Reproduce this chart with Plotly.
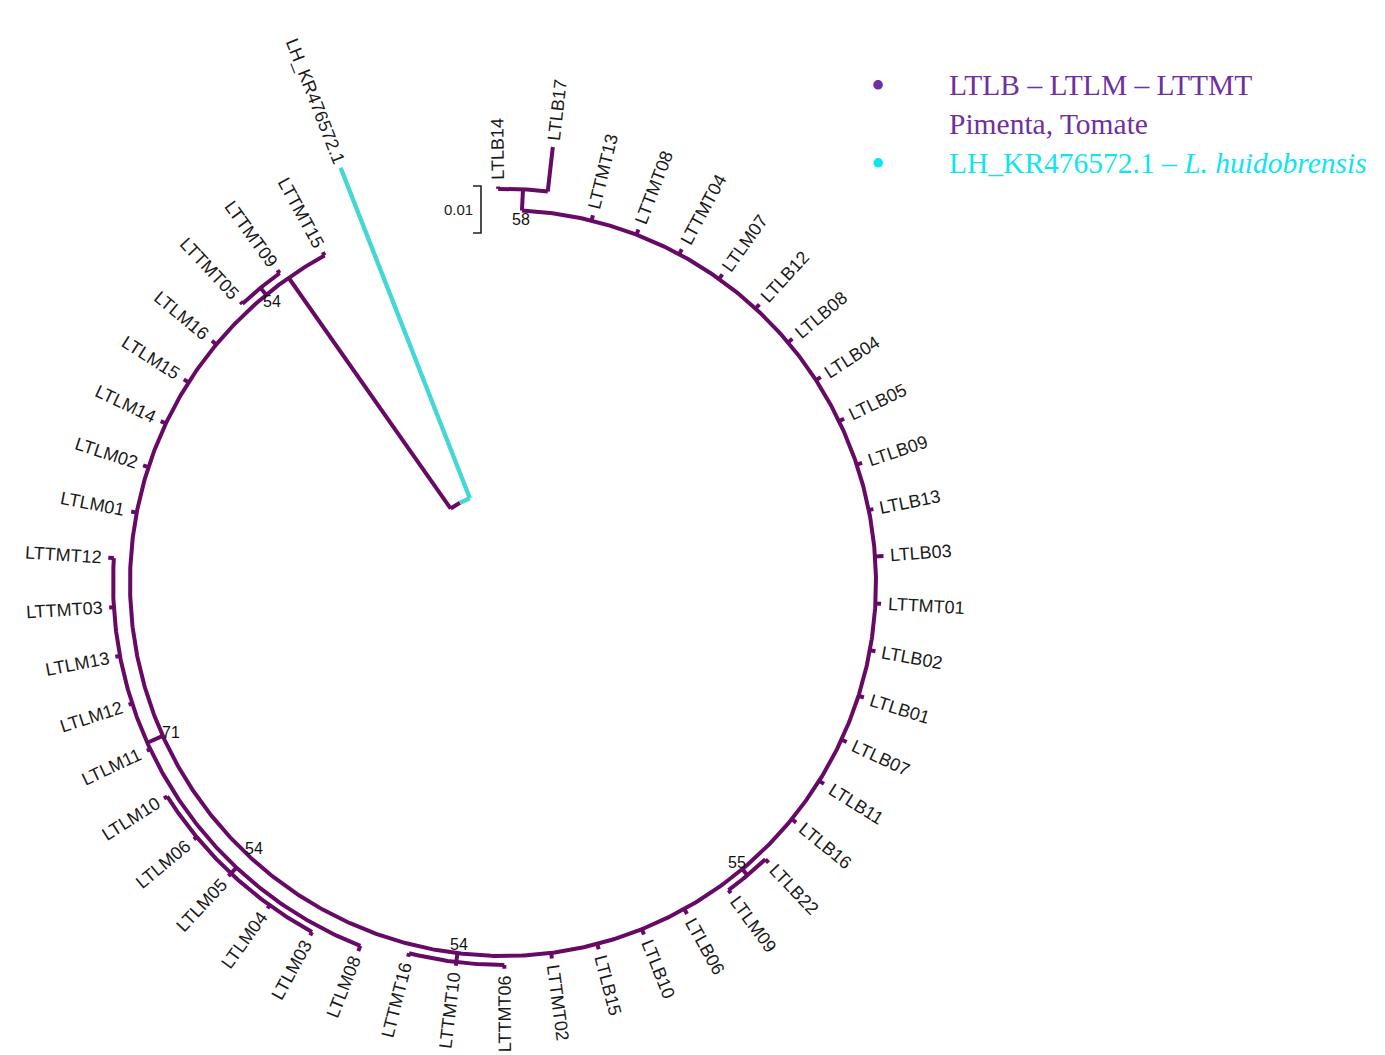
import numpy as np
import plotly.graph_objects as go

# ---------------------------------------------------------------- tree data
# Tips in drawing order, clockwise from the top of the circle
leaf_names = [
    "LTLB14", "LTLB17", "LTTMT13", "LTTMT08", "LTTMT04", "LTLM07", "LTLB12",
    "LTLB08", "LTLB04", "LTLB05", "LTLB09", "LTLB13", "LTLB03", "LTTMT01",
    "LTLB02", "LTLB01", "LTLB07", "LTLB11", "LTLB16", "LTLB22", "LTLM09",
    "LTLB06", "LTLB10", "LTLB15", "LTTMT02", "LTTMT06", "LTTMT10", "LTTMT16",
    "LTLM08", "LTLM03", "LTLM04", "LTLM05", "LTLM06", "LTLM10", "LTLM11",
    "LTLM12", "LTLM13", "LTTMT03", "LTTMT12", "LTLM01", "LTLM02", "LTLM14",
    "LTLM15", "LTLM16", "LTTMT05", "LTTMT09", "LTTMT15", "LH_KR476572.1",
]
# Node each tip hangs from
leaf_parent = [
    "c58", "c58", "in", "in", "in", "in", "in",
    "in", "in", "in", "in", "in", "in", "in",
    "in", "in", "in", "in", "in", "c55", "c55",
    "in", "in", "in", "in", "c54c", "c54c", "c54c",
    "c71", "c54b", "c54b", "c54b", "c54b", "c54b", "c71",
    "c71", "c71", "c71", "c71", "in", "in", "in",
    "in", "in", "c54a", "c54a", "in", "root",
]
# Terminal branch lengths (substitutions/site)
leaf_length = [
    0.0005, 0.0095, 0.0012, 0.0012, 0.0012, 0.0012, 0.0012,
    0.0012, 0.0012, 0.0012, 0.0012, 0.0010, 0.0018, 0.0012,
    0.0012, 0.0012, 0.0012, 0.0012, 0.0012, 0.0010, 0.0008,
    0.0012, 0.0012, 0.0012, 0.0012, 0.0008, 0.0008, 0.0008,
    0.0012, 0.0008, 0.0008, 0.0008, 0.0008, 0.0008, 0.0008,
    0.0008, 0.0010, 0.0010, 0.0012, 0.0012, 0.0012, 0.0012,
    0.0012, 0.0012, 0.0006, 0.0008, 0.0008, 0.0755,
]
# Internal nodes: id, parent, stem length, bootstrap support
clade_ids = ["in", "c58", "c54a", "c71", "c54b", "c54c", "c55"]
clade_parent = ["root", "in", "in", "in", "c71", "in", "in"]
clade_length = [0.0600, 0.0045, 0.0019, 0.0036, 0.0017, 0.0019, 0.0017]
clade_support = ["", "58", "54", "71", "54", "54", "55"]

outgroup = "LH_KR476572.1"
scale_bar_length = 0.01

legend_lines = [
    ("LTLB – LTLM – LTTMT", "#7030A0", True),
    ("Pimenta, Tomate", "#7030A0", False),
    ("LH_KR476572.1 – <i>L. huidobrensis</i>", "#10E4EC", True),
]

# ---------------------------------------------------------------- layout
W, H = 1385, 1055
PX = 4700.0                  # pixels per unit of branch length
CX, CY = 503.0, 583.0        # circle centre in page pixels
THETA0, STEP = 90.7, 7.22    # angle of first tip slot and slot spacing (deg)
ROOT_R = 91 / PX             # radius at which the root is drawn
INGROUP_SLOT = 45.1          # angular slot of the ingroup stem

PURPLE = "#660A66"
CYAN = "#45D6D6"


def theta(slot):
    return np.deg2rad(THETA0 - STEP * np.asarray(slot, dtype=float))


def xy(r, slot):
    t = theta(slot)
    return r * np.cos(t), r * np.sin(t)


# radius of every internal node
radius = {"root": ROOT_R}
for cid, par, L in zip(clade_ids, clade_parent, clade_length):
    radius[cid] = radius[par] + L


def child_slots(cid):
    slots = [i for i, p in enumerate(leaf_parent) if p == cid]
    slots += [clade_slot(c) for c, p in zip(clade_ids, clade_parent) if p == cid]
    return slots


def clade_slot(cid):
    if cid == "in":
        return INGROUP_SLOT
    return float(np.mean(child_slots(cid)))


segs = {PURPLE: ([], []), CYAN: ([], [])}


def add_radial(color, r0, r1, slot):
    x0, y0 = xy(r0, slot)
    x1, y1 = xy(r1, slot)
    segs[color][0].extend([x0, x1, None])
    segs[color][1].extend([y0, y1, None])


def add_arc(color, r, s0, s1):
    s = np.linspace(s0, s1, max(2, int(abs(s1 - s0) * 20)))
    x, y = xy(r, s)
    segs[color][0].extend(list(x) + [None])
    segs[color][1].extend(list(y) + [None])


# internal branches and arcs
for cid, par in zip(clade_ids, clade_parent):
    s = clade_slot(cid)
    add_radial(PURPLE, radius[par], radius[cid], s)
    kids = child_slots(cid) + [s]
    add_arc(PURPLE, radius[cid], min(kids), max(kids))

# root arc (half towards each side)
out_idx = leaf_names.index(outgroup)
mid = (INGROUP_SLOT + out_idx) / 2
add_arc(PURPLE, ROOT_R, INGROUP_SLOT, mid)
add_arc(CYAN, ROOT_R, mid, out_idx)

# terminal branches
tip_r = []
for i, (name, par, L) in enumerate(zip(leaf_names, leaf_parent, leaf_length)):
    col = CYAN if name == outgroup else PURPLE
    add_radial(col, radius[par], radius[par] + L, i)
    tip_r.append(radius[par] + L)

fig = go.Figure()
for col, w in ((PURPLE, 4.0), (CYAN, 4.4)):
    fig.add_trace(go.Scatter(x=segs[col][0], y=segs[col][1], mode="lines",
                             line=dict(color=col, width=w), hoverinfo="skip",
                             showlegend=False))

# ---------------------------------------------------------------- tip labels
ARIAL_W = {"L": .556, "T": .611, "B": .667, "M": .833, "H": .722, "K": .667,
           "_": .556, ".": .278}
FS = 18
annotations = []
for i, name in enumerate(leaf_names):
    width = sum(ARIAL_W.get(ch, .556) for ch in name) * FS
    deg = (THETA0 - STEP * i + 180) % 360 - 180
    if -88 < deg <= 93:
        angle = -deg
    else:
        angle = 180 - deg
    angle = (angle + 180) % 360 - 180
    r = tip_r[i] + (6 + width / 2) / PX
    x, y = xy(r, i)
    annotations.append(dict(x=x, y=y, text=name, showarrow=False, textangle=angle,
                            xanchor="center", yanchor="middle",
                            font=dict(family="Liberation Sans, Arial", size=FS,
                                      color="#1a1a1a")))

# bootstrap values
for cid, sup in zip(clade_ids, clade_support):
    if not sup:
        continue
    x, y = xy(radius["in"] - 9 / PX, clade_slot(cid))
    annotations.append(dict(x=x, y=y, text=sup, showarrow=False,
                            xanchor="center", yanchor="middle",
                            font=dict(family="Liberation Sans, Arial", size=16,
                                      color="#111111")))

# scale bar
sb_x = (481 - CX) / PX
sb_top = (CY - 186) / PX
sb_tick = 8 / PX
fig.add_trace(go.Scatter(
    x=[sb_x - sb_tick, sb_x, sb_x, sb_x - sb_tick],
    y=[sb_top, sb_top, sb_top - scale_bar_length, sb_top - scale_bar_length],
    mode="lines", line=dict(color="#222222", width=1.6), hoverinfo="skip",
    showlegend=False))
annotations.append(dict(x=sb_x - 6 / PX, y=sb_top - scale_bar_length / 2,
                        text=f"{scale_bar_length:.2f}", showarrow=False,
                        xanchor="right", yanchor="middle",
                        font=dict(family="Liberation Sans, Arial", size=15,
                                  color="#222222")))

# legend block
for k, (txt, col, bullet) in enumerate(legend_lines):
    yy = 1 - (85 + 39 * k) / H
    annotations.append(dict(x=947 / W, y=yy, xref="paper", yref="paper",
                            text=txt, showarrow=False, xanchor="left",
                            yanchor="middle",
                            font=dict(family="Liberation Serif, Times New Roman",
                                      size=29.5, color=col)))
    if bullet:
        annotations.append(dict(x=878 / W, y=yy, xref="paper", yref="paper",
                                text="•", showarrow=False, xanchor="center",
                                yanchor="middle",
                                font=dict(family="Liberation Serif", size=40,
                                          color=col)))

fig.update_layout(
    width=W, height=H,
    margin=dict(l=0, r=0, t=0, b=0),
    paper_bgcolor="white", plot_bgcolor="white",
    xaxis=dict(range=[-CX / PX, (W - CX) / PX], visible=False, fixedrange=True),
    yaxis=dict(range=[(CY - H) / PX, CY / PX], visible=False, fixedrange=True),
    annotations=annotations,
)

fig.write_html("out.html")
